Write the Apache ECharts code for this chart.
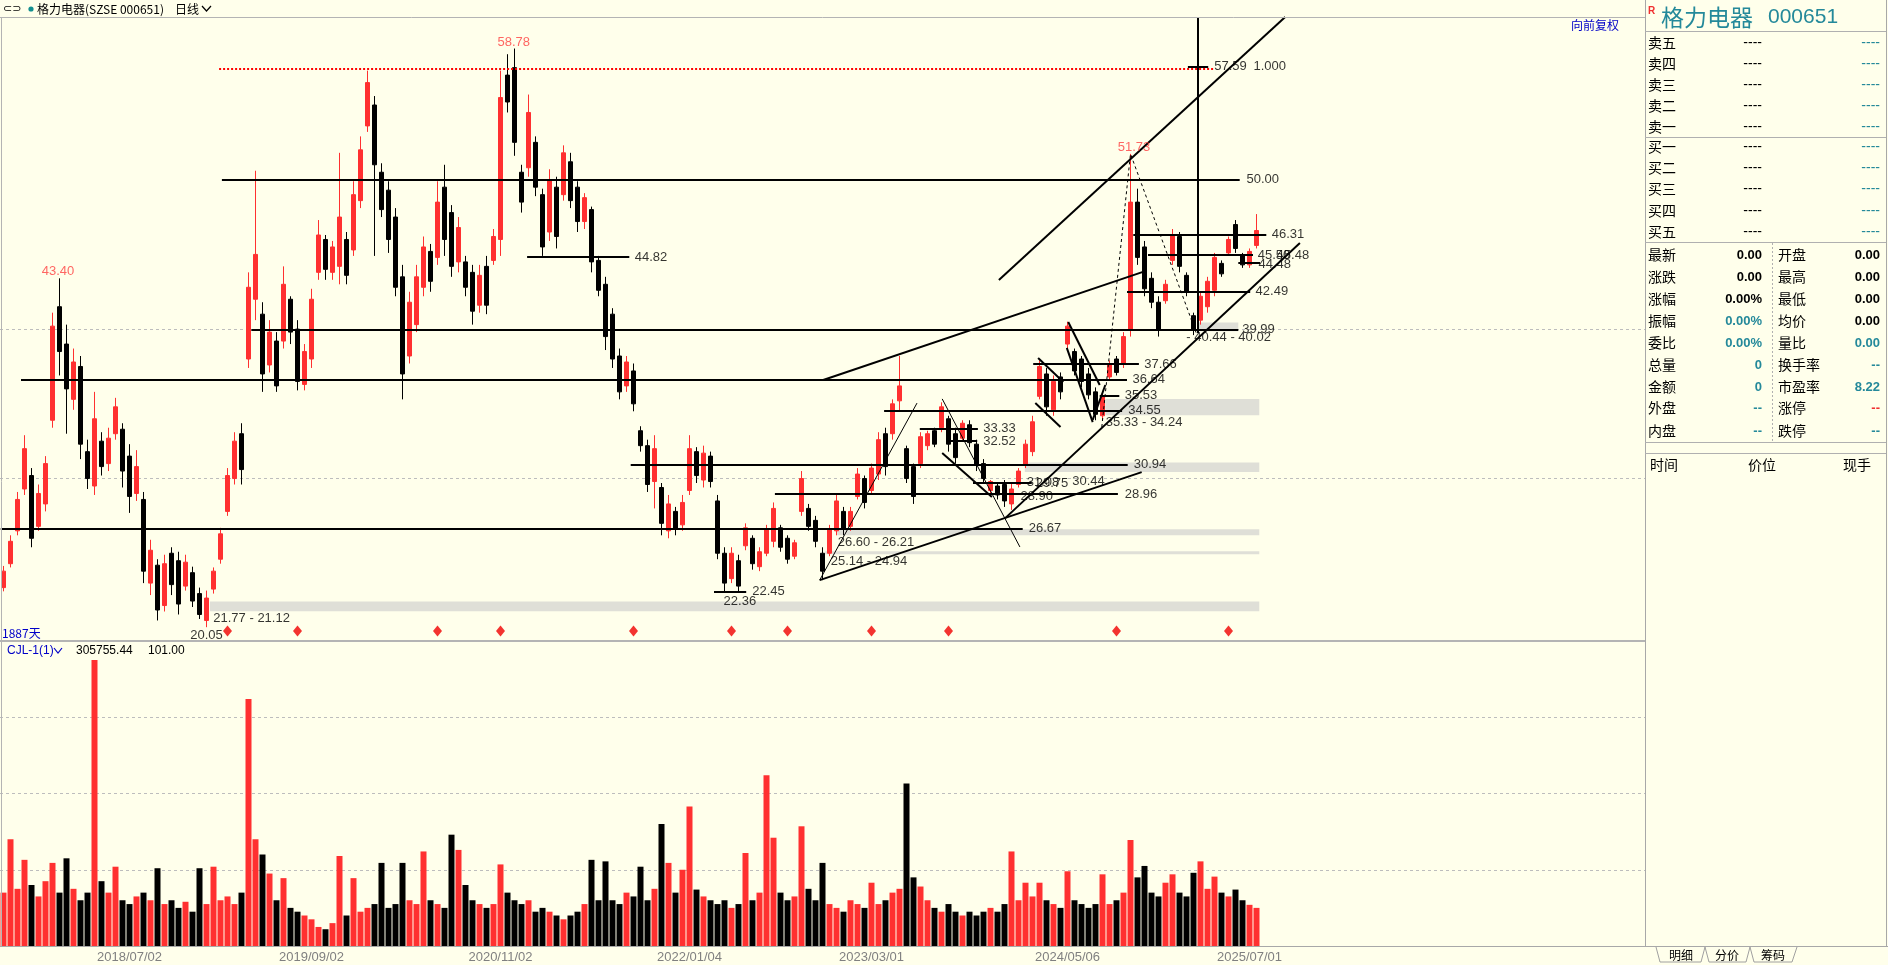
<!DOCTYPE html>
<html><head><meta charset="utf-8">
<script src="https://cdn.jsdelivr.net/npm/echarts@6/dist/echarts.min.js"></script>
<style>html,body{margin:0;padding:0;background:#FFFFEB;}#c{width:1888px;height:965px;}</style>
</head><body><div id="c"></div>
<script>
// ---------------- DATA ----------------
// candles: [open, close, low, high]
const candles = [
[22.7,23.8,22.45,24.15],[24.3,25.8,24.05,26.2],[26.5,28.6,26.2,29.1],[29.3,32.0,28.9,32.9],[30.2,26.0,25.4,30.7],
[26.8,29.0,26.5,29.6],[28.3,31.0,27.8,31.5],[33.9,40.2,33.4,41.1],[41.5,38.5,36.9,43.4],[39.0,36.0,33.0,40.3],
[35.3,37.8,34.6,38.7],[37.5,32.3,31.3,38.2],[31.8,30.0,29.3,32.6],[29.5,34.0,28.9,35.8],[32.5,30.8,30.2,33.1],
[31.0,32.7,30.5,33.4],[33.0,34.8,32.6,35.4],[33.3,30.5,29.4,33.7],[31.5,28.8,27.7,32.3],[29.0,30.8,28.5,31.9],
[28.6,23.8,23.0,29.1],[23.0,25.2,22.2,25.9],[24.2,21.2,20.5,24.6],[21.5,24.3,21.1,24.9],[25.0,22.9,22.2,25.4],
[24.5,21.6,20.9,25.1],[22.8,24.4,22.5,24.9],[23.7,21.8,21.4,24.1],[22.3,20.9,20.6,22.7],[20.5,22.0,20.05,22.5],
[22.6,23.8,22.3,24.05],[24.6,26.3,24.3,26.7],[27.8,30.2,27.5,30.7],[30.0,32.5,29.6,33.1],[33.0,30.6,29.6,33.7],
[38.0,42.8,37.4,43.8],[42.0,45.0,40.6,50.6],[41.0,37.0,35.8,41.8],[37.6,39.8,37.1,40.6],[39.2,36.2,35.8,39.8],
[39.2,43.0,38.7,44.2],[42.0,39.8,39.0,42.2],[40.0,36.5,35.9,40.6],[36.3,38.5,35.9,39.0],[38.0,42.0,37.4,42.7],
[43.8,46.3,43.3,47.3],[46.0,44.0,43.3,46.3],[43.8,45.5,43.3,45.9],[44.2,47.5,43.0,51.8],[46.0,43.6,43.0,46.5],
[45.3,49.0,44.9,49.9],[48.6,52.0,48.1,52.9],[53.6,56.5,53.2,57.3],[55.0,51.0,44.9,55.6],[50.5,48.0,47.5,51.1],
[49.3,46.0,45.1,49.9],[47.5,42.8,42.2,48.1],[43.5,37.0,35.3,44.3],[38.2,41.8,37.7,42.5],[40.3,43.5,39.8,44.3],
[42.8,45.5,42.2,46.2],[45.2,43.2,42.5,45.7],[44.8,48.5,44.3,49.9],[49.5,46.0,44.9,51.0],[47.8,44.2,43.5,48.3],
[44.5,46.8,43.8,47.5],[44.5,42.8,42.2,44.9],[43.8,41.2,40.3,44.3],[41.6,43.6,41.1,44.3],[44.2,41.6,41.0,44.9],
[44.6,46.2,44.3,46.7],[46.0,55.5,44.9,57.3],[57.0,55.2,54.5,58.4],[57.5,52.5,51.6,58.78],[50.5,48.5,47.8,51.0],
[50.8,54.5,50.2,55.7],[52.5,49.5,48.9,52.9],[49.0,45.5,44.9,49.4],[46.5,50.0,45.9,50.7],[49.5,46.2,45.4,50.2],
[49.0,51.8,48.6,52.3],[51.2,48.6,48.1,51.8],[49.5,47.2,46.5,49.9],[47.2,48.8,46.7,49.1],[48.0,44.5,43.8,48.2],
[44.6,42.6,42.2,44.9],[43.0,39.5,38.6,43.5],[41.0,38.0,37.4,41.4],[38.2,35.8,35.3,38.7],[36.2,37.8,35.8,38.2],
[37.2,35.0,34.5,37.7],[33.2,32.2,31.8,33.5],[32.2,29.6,29.1,32.6],[29.8,32.0,28.0,32.9],[29.4,27.0,26.2,29.7],
[26.5,28.3,26.0,28.9],[27.8,26.6,26.2,28.1],[26.9,28.4,26.5,28.9],[29.2,32.0,28.9,32.9],[31.8,30.2,29.7,32.1],
[29.9,31.7,29.4,32.2],[31.5,29.8,29.4,31.8],[28.5,25.0,24.6,28.9],[25.0,23.0,22.36,25.4],[23.3,25.0,23.0,25.4],
[24.5,22.8,22.45,24.9],[25.5,26.7,25.2,27.0],[26.0,24.3,23.9,26.2],[24.1,25.1,23.8,25.4],[25.0,26.6,24.8,26.9],
[25.8,28.0,25.4,28.4],[26.7,25.4,25.1,26.9],[26.0,24.6,24.3,26.2],[24.8,25.7,24.6,25.9],[27.8,30.0,27.5,30.5],
[28.0,26.8,26.5,28.3],[27.2,25.8,25.4,27.5],[25.0,23.8,23.2,25.4],[25.0,26.6,24.8,26.9],[26.5,28.5,26.2,28.9],
[27.8,26.6,26.2,28.1],[26.8,27.8,26.5,28.1],[28.8,30.3,28.6,30.7],[30.0,28.4,28.0,30.2],[29.2,30.7,28.9,31.0],
[30.3,32.6,29.9,33.1],[33.0,30.8,30.2,33.4],[33.0,35.0,32.6,35.3],[35.2,36.2,34.5,38.2],[32.0,30.0,29.7,32.2],
[30.8,28.8,28.3,31.0],[31.0,32.8,30.7,33.1],[32.2,33.0,31.9,33.2],[33.2,32.3,32.1,33.4],[33.4,34.8,33.1,35.1],
[34.0,32.3,31.8,34.2],[33.0,31.4,31.0,33.4],[32.7,33.7,32.5,33.9],[33.6,32.4,32.1,33.9],[32.3,30.9,30.5,32.6],
[31.0,30.0,29.7,31.3],[29.2,29.8,28.9,29.9],[29.5,28.9,28.6,29.7],[29.6,28.5,28.1,29.9],[28.3,29.3,27.9,29.7],
[29.6,30.5,29.4,30.7],[30.9,32.3,30.7,32.6],[31.8,33.8,31.5,34.2],[35.5,37.5,35.3,37.9],[37.0,34.8,34.2,37.4],
[34.6,36.5,34.2,36.9],[36.8,35.8,35.3,37.1],[39.0,40.2,38.7,40.5],[38.5,37.2,36.9,38.7],[38.0,36.5,36.1,38.2],
[37.0,35.6,35.3,37.4],[35.8,34.3,33.9,36.1],[34.2,35.5,33.9,35.8],[36.8,37.6,36.6,37.9],[38.0,37.1,36.9,38.2],
[37.7,39.5,37.4,39.8],[40.0,48.5,39.5,51.73],[48.5,44.8,44.3,49.4],[45.5,42.7,42.2,45.9],[43.4,41.8,41.4,43.8],
[41.8,40.0,39.5,42.2],[41.9,43.0,41.7,43.3],[44.6,46.3,44.3,46.7],[46.2,44.2,43.8,46.5],[43.6,42.5,42.2,43.8],
[40.9,40.0,39.6,41.1],[40.6,42.2,40.3,42.5],[41.5,43.2,41.1,43.5],[42.6,44.8,42.2,45.1],[44.4,43.7,43.5,44.6],
[45.1,46.0,44.9,46.2],[47.0,45.4,45.1,47.3],[44.9,44.3,44.1,45.1],[44.3,45.2,44.1,45.4],[45.6,46.6,45.4,47.7]
];
const volumes = [
70,140,75,113,80,65,85,109,70,115,75,60,70,
375,
85,70,104,60,55,65,70,60,102,55,60,50,58,45,102,55,104,60,65,55,70,324,
140,120,95,
60,89,50,45,40,35,25,22,30,118,40,89,45,50,55,109,50,55,109,60,55,124,60,55,
50,
146,126,
80,60,55,50,55,107,70,60,55,60,45,50,45,40,35,40,45,55,113,60,111,60,55,70,65,104,60,75,
160,
109,70,100,183,74,
65,60,55,60,50,55,122,60,70,
224,142,70,60,65,157,75,60,109,
55,50,45,60,55,50,83,55,60,70,75,
213,
90,78,60,50,45,55,45,40,45,40,45,50,45,55,
124,
60,83,65,83,60,55,50,98,60,55,50,55,94,55,60,70,
139,90,105,
70,65,83,94,70,65,96,111,75,91,70,65,74,60,54,50
];
const N_CAT = 235;               // bar slots across the whole price panel
const tickIdx = [18,44,71,98,124,152,178];
const tickLabels = ['2018/07/02','2019/09/02','2020/11/02','2022/01/04','2023/03/01','2024/05/06','2025/07/01'];
// horizontal levels: [price, fromBar, toBar]
const levelLines = [
[50.00,31.2,176.6],[44.82,74.8,89.4],[39.99,35.4,176.4],[36.64,2.5,160.5],[30.94,89.6,160.6],
[28.96,110.2,159.2],[26.67,-0.4,145.6],[22.45,101.5,106.1],[46.31,161.4,180.4],[44.96,163.5,178.5],
[44.41,176.4,179.5],[42.49,160.5,178.1],[37.66,147.1,162.2],[35.53,156.6,159.4],[34.55,125.8,159.8],
[33.33,130.9,139.2],[32.52,135.2,139.1],[29.75,138.5,146.9],[57.59,169.2,172.1]
];
// zones: [low, high, fromBar, toBar]
const zones = [
[21.12,21.77,29.5,179.4],[26.21,26.60,119.1,179.4],[24.94,25.14,117.4,179.4],
[30.44,31.08,145.9,179.4],[34.24,35.33,157.4,179.4],[39.85,40.44,170.6,176.4]
];
// trend lines: [[bar, price],[bar, price]]
const trendLines = [
[[142.2,43.29],[183.1,60.89]],[[117.1,36.59],[163.1,43.88]],[[143.1,27.35],[185.2,45.76]],
[[116.6,23.20],[162.6,30.43]],[[134.1,31.71],[141.2,28.77]],
[[147.8,38.07],[151.4,36.46]],[[147.4,35.05],[151.0,33.45]],[[152.1,40.48],[156.6,36.26]],
[[151.9,38.74],[155.6,33.78]],[[155.6,33.92],[157.4,36.26]],[[170.6,60.89],[170.6,39.74]]
];
const thinLines = [[[116.6,23.20],[130.5,35.05]],[[134.1,35.33],[145.2,25.42]]];
const zigzag = [[156.9,33.45],[161.0,51.73],[170.5,39.6]];
const dottedLevel = [57.45, 30.8, 172.9];
const gridLevels = [30, 40];
const levelLabels = [
[177.5,50.00,'50.00'],[90.1,44.82,'44.82'],[176.9,39.99,'39.99'],[161.2,36.64,'36.64'],[161.4,30.94,'30.94'],
[160.1,28.96,'28.96'],[146.4,26.67,'26.67'],[106.9,22.45,'22.45'],[102.8,21.80,'22.36'],[181.1,46.31,'46.31'],
[179.1,44.96,'45.50'],[181.8,44.96,'45.48'],[179.2,44.36,'44.48'],[178.8,42.49,'42.49'],[162.9,37.66,'37.66'],
[160.1,35.53,'35.53'],[160.6,34.55,'34.55'],[157.4,33.78,'35.33 - 34.24'],[139.9,33.38,'33.33'],[139.9,32.51,'32.52'],
[146.1,29.77,'31.08'],[147.4,29.70,'29.75'],[152.6,29.83,'30.44'],[145.2,28.83,'28.90'],
[119.1,25.72,'26.60 - 26.21'],[118.1,24.48,'25.14 - 24.94'],[29.9,20.66,'21.77 - 21.12'],[26.6,19.52,'20.05'],
[168.9,39.47,'- 40.44 - 40.02'],[172.9,57.59,'57.59'],[178.5,57.59,'1.000']
];
const peakLabels = [[70.5,59.22,'58.78'],[5.4,43.89,'43.40'],[159.1,52.19,'51.73']];
const signalIdx = [32,42,62,71,90,104,112,124,135,159,175];
const SIGNAL_PRICE = 19.79;
const sellLabels = ['卖五','卖四','卖三','卖二','卖一'];
const buyLabels = ['买一','买二','买三','买四','买五'];
const statsLeft = [['最新','0.00'],['涨跌','0.00'],['涨幅','0.00%'],['振幅','0.00%'],['委比','0.00%'],['总量','0'],['金额','0'],['外盘','--'],['内盘','--']];
const statsRight = [['开盘','0.00'],['最高','0.00'],['最低','0.00'],['均价','0.00'],['量比','0.00'],['换手率','--'],['市盈率','8.22'],['涨停','--'],['跌停','--']];

// ---------------- CHART ----------------
const BG = '#FFFFEB', TEAL = '#24899A', BLUE = '#0000C8', GRID = '#B4B4B4';
const chart = echarts.init(document.getElementById('c'), null, {renderer:'canvas', width:1888, height:965});
const cats = Array.from({length:N_CAT}, (_, i) => String(i));
const tickMap = {}; tickIdx.forEach((k, j) => tickMap[k] = tickLabels[j]);
const isUp = c => c[1] >= c[0];

function T(x, y, text, o) {
  o = o || {};
  return {type:'text', x:x, y:y, silent:true, z:100, style:{text:text, fill:o.fill||'#000',
    font:o.font||'14px "Noto Sans CJK SC"', align:o.align||'left', verticalAlign:o.va||'middle',
    textAlign:o.align||'left', textVerticalAlign:o.va||'middle'}};
}
function L(x1,y1,x2,y2,stroke,w,dash) {
  return {type:'line', silent:true, z:100, shape:{x1:x1,y1:y1,x2:x2,y2:y2},
    style:{stroke:stroke||GRID, lineWidth:w||1, lineDash:dash||null}};
}
function P(points, stroke, w) {
  return {type:'polyline', silent:true, z:100, shape:{points:points}, style:{stroke:stroke, lineWidth:w||1, fill:null}};
}

const g = [];
// header
g.push(L(0,17.5,1645,17.5,GRID,1));
g.push(T(3,9,'⊂⊃',{font:'11px "DejaVu Sans"'}));
g.push({type:'circle', silent:true, z:100, shape:{cx:31, cy:9, r:2.6}, style:{fill:'#138F8F'}});
g.push(T(37,9,'格力电器(SZSE 000651)',{font:'12px "Noto Sans CJK SC"'}));
g.push(T(175,9,'日线',{font:'12px "Noto Sans CJK SC"'}));
g.push(P([[202,6],[206.5,11],[211,6]],'#000',1.2));
g.push(L(1.5,17,1.5,946,GRID,1));
g.push(L(0,641,1645,641,GRID,2));
g.push(T(2,633,'1887天',{fill:BLUE,font:'12px "Noto Sans CJK SC"'}));
g.push(T(1571,25,'向前复权',{fill:BLUE,font:'12px "Noto Sans CJK SC"'}));
g.push(T(7,651,'CJL-1(1)',{fill:BLUE,font:'12px "Liberation Sans"'}));
g.push(P([[54,648],[58,653],[62,648]],BLUE,1.2));
g.push(T(76,651,'305755.44',{font:'12px "Liberation Sans"'}));
g.push(T(148,651,'101.00',{font:'12px "Liberation Sans"'}));
// right panel
g.push(L(1645.5,0,1645.5,946,'#A8A8A8',1));
g.push(L(1886.5,0,1886.5,946,'#A8A8A8',1));
g.push(L(1645,946.5,1888,946.5,'#A8A8A8',1));
g.push(T(1648,11,'R',{fill:'#F03030',font:'bold 10px "Liberation Sans"'}));
g.push(T(1661,17,'格力电器',{fill:TEAL,font:'23px "Noto Sans CJK SC"'}));
g.push(T(1768,17,'000651',{fill:TEAL,font:'21px "Liberation Sans"'}));
[31.5,137.5,242.5,442.5,453.5].forEach(y => g.push(L(1645,y,1886,y,'#B0B0B0',1)));
const LBL = '14px "Noto Sans CJK SC"', DASH = '14px "Liberation Sans"';
[43,64,85,106,127].forEach((y,k) => {
  g.push(T(1648,y,sellLabels[k],{font:LBL}));
  g.push(T(1762,y,'----',{font:DASH,align:'right'}));
  g.push(T(1880,y,'----',{font:DASH,align:'right',fill:TEAL}));
});
[147,168,189,211,232].forEach((y,k) => {
  g.push(T(1648,y,buyLabels[k],{font:LBL}));
  g.push(T(1762,y,'----',{font:DASH,align:'right'}));
  g.push(T(1880,y,'----',{font:DASH,align:'right',fill:TEAL}));
});
const leftCol = ['#000','#000','#000',TEAL,TEAL,TEAL,TEAL,TEAL,TEAL];
const rightCol = ['#000','#000','#000','#000',TEAL,TEAL,TEAL,'#F03030',TEAL];
[255,277,299,321,343,365,387,408,431].forEach((y,k) => {
  g.push(T(1648,y,statsLeft[k][0],{font:LBL}));
  g.push(T(1762,y,statsLeft[k][1],{font:'bold 13px "Liberation Sans"',align:'right',fill:leftCol[k]}));
  g.push(T(1778,y,statsRight[k][0],{font:LBL}));
  g.push(T(1880,y,statsRight[k][1],{font:'bold 13px "Liberation Sans"',align:'right',fill:rightCol[k]}));
});
g.push(L(1772.5,243,1772.5,442,'#B0B0B0',1,[2,2]));
g.push(T(1650,465,'时间',{font:LBL}));
g.push(T(1748,465,'价位',{font:LBL}));
g.push(T(1843,465,'现手',{font:LBL}));
g.push(P([[1656,947],[1660,962],[1701,962],[1705,947]],'#A0A0A0',1));
g.push(P([[1705,947],[1709,962],[1746,962],[1750,947]],'#A0A0A0',1));
g.push(P([[1750,947],[1754,962],[1792,962],[1797,947]],'#A0A0A0',1));
g.push(T(1681,955,'明细',{font:'12px "Noto Sans CJK SC"',align:'center'}));
g.push(T(1727,955,'分价',{font:'12px "Noto Sans CJK SC"',align:'center'}));
g.push(T(1773,955,'筹码',{font:'12px "Noto Sans CJK SC"',align:'center'}));

const seg = (a, b) => ({coords:[a, b]});
const labelSeries = (arr, color, z) => ({
  type:'scatter', xAxisIndex:1, yAxisIndex:0, symbolSize:1, itemStyle:{color:'rgba(0,0,0,0)'}, z:z, silent:true,
  data: arr.map(d => ({name:d[2], value:[d[0], d[1]]})),
  label:{show:true, position:'right', distance:0, formatter:'{b}', color:color,
    fontFamily:'Liberation Sans', fontSize:13},
  labelLayout:{hideOverlap:false}
});
const LS = (c, w, t) => ({color:c, width:w, type:t || 'solid', opacity:1});

const option = {
  backgroundColor: BG,
  animation:false,
  grid:[
    {left:0, top:17, width:1645, height:622},
    {left:0, top:641, width:1645, height:305}
  ],
  xAxis:[
    {type:'category', gridIndex:0, data:cats, show:false},
    {type:'value', gridIndex:0, min:-0.5, max:N_CAT-0.5, show:false},
    {type:'category', gridIndex:1, data:cats, axisTick:{show:false},
     axisLine:{lineStyle:{color:'#A8A8A8'}},
     axisLabel:{interval:(i) => tickMap[i] !== undefined, formatter:(v) => tickMap[Number(v)] || '',
       color:'#808080', fontFamily:'Liberation Sans', fontSize:13, margin:5}}
  ],
  yAxis:[
    {type:'value', gridIndex:0, min:19.26, max:60.89, show:false},
    {type:'value', gridIndex:1, min:0, max:400, interval:100, axisLabel:{show:false},
     axisLine:{show:false}, axisTick:{show:false},
     splitLine:{lineStyle:{color:'#BDBDBD', type:[3,3]}}}
  ],
  graphic:g,
  series:[
    {type:'line', xAxisIndex:1, yAxisIndex:0, data:[], z:1, silent:true,
     markArea:{silent:true, itemStyle:{color:'#DFDFD7'},
       data: zones.map(z => [{coord:[z[2], z[0]]},{coord:[z[3], z[1]]}])}},
    {type:'lines', coordinateSystem:'cartesian2d', xAxisIndex:1, yAxisIndex:0, z:1, silent:true,
     lineStyle:LS('#BDBDBD',1,[3,3]),
     data: gridLevels.map(p => seg([-0.5,p],[N_CAT-0.5,p]))},
    {type:'candlestick', xAxisIndex:0, yAxisIndex:0, data:candles, barWidth:5, z:2, silent:true,
     itemStyle:{color:'#FF3030', color0:'#000000', borderColor:'#FF3030', borderColor0:'#000000', borderWidth:1}},
    {type:'lines', coordinateSystem:'cartesian2d', xAxisIndex:1, yAxisIndex:0, z:3, silent:true,
     lineStyle:LS('#FF0000',2,[2,2]),
     data:[seg([dottedLevel[1],dottedLevel[0]],[dottedLevel[2],dottedLevel[0]])]},
    {type:'lines', coordinateSystem:'cartesian2d', xAxisIndex:1, yAxisIndex:0, z:3, silent:true,
     lineStyle:LS('#000000',2),
     data: levelLines.map(l => seg([l[1],l[0]],[l[2],l[0]])).concat(trendLines.map(t => seg(t[0], t[1])))},
    {type:'lines', coordinateSystem:'cartesian2d', xAxisIndex:1, yAxisIndex:0, z:3, silent:true,
     lineStyle:LS('#000000',1),
     data: thinLines.map(t => seg(t[0], t[1]))},
    {type:'lines', coordinateSystem:'cartesian2d', xAxisIndex:1, yAxisIndex:0, z:3, silent:true,
     polyline:true, lineStyle:LS('#000000',1,[3,3]),
     data:[{coords:zigzag}]},
    labelSeries(levelLabels, '#000', 4),
    labelSeries(peakLabels, '#FF4040', 4),
    {type:'scatter', xAxisIndex:1, yAxisIndex:0, symbol:'diamond', symbolSize:[9,11], z:4, silent:true,
     itemStyle:{color:'#F00000'}, data: signalIdx.map(i => [i, SIGNAL_PRICE])},
    {type:'bar', xAxisIndex:2, yAxisIndex:1, barWidth:6, silent:true,
     data: volumes.map((v, i) => ({value:v, itemStyle:{color: isUp(candles[i]) ? '#FF3030' : '#000000'}}))}
  ]
};
chart.setOption(option);
</script></body></html>
